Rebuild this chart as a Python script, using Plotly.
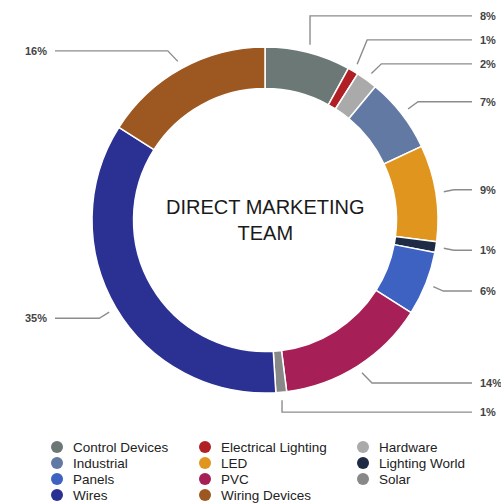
import math
import plotly.graph_objects as go

# slice data, in drawing order (clockwise from 12 o'clock)
labels = ["Control Devices", "Electrical Lighting", "Hardware", "Industrial", "LED",
          "Lighting World", "Panels", "PVC", "Solar", "Wires", "Wiring Devices"]
values = [8, 1, 2, 7, 9, 1, 6, 14, 1, 35, 16]
colors = ["#6c7875", "#b01f24", "#aaaaaa", "#6179a3", "#e0951f",
          "#1f2a44", "#3d62c2", "#a61f56", "#888888", "#2b3193", "#9d5721"]
center_title = "DIRECT MARKETING<br>TEAM"

W, H = 501, 504
CX, CY, R = 265, 220, 173          # donut centre / outer radius in px
FONT = "Liberation Sans, Arial, sans-serif"

fig = go.Figure()

# the donut itself
fig.add_trace(go.Pie(
    labels=labels, values=values, sort=False, direction="clockwise",
    hole=0.76, textinfo="none", showlegend=False,
    marker=dict(colors=colors, line=dict(color="white", width=1.5)),
    domain=dict(x=[(CX - R) / W, (CX + R) / W],
                y=[(H - CY - R) / H, (H - CY + R) / H]),
))

# leader lines + percentage labels, placed from the slice angles
total = sum(values)
cum = 0
items = []
for lab, v in zip(labels, values):
    mid = (cum + v / 2) / total * 2 * math.pi
    cum += v
    s, c = math.sin(mid), math.cos(mid)
    items.append(dict(v=v, s=s, side=1 if s >= 0 else -1,
                      ax=CX + (R + 8) * s, ay=CY - (R + 8) * c,
                      ideal=CY - (R + 20) * c))

GAP = 24
for side in (1, -1):
    grp = [d for d in items if d["side"] == side]
    upper = sorted([d for d in grp if d["ideal"] < CY], key=lambda d: -d["ideal"])
    lower = sorted([d for d in grp if d["ideal"] >= CY], key=lambda d: d["ideal"])
    prev = None
    for d in upper:
        d["y"] = d["ideal"] if prev is None else min(d["ideal"], prev - GAP)
        prev = d["y"]
    prev = None
    for d in lower:
        d["y"] = d["ideal"] if prev is None else max(d["ideal"], prev + GAP)
        prev = d["y"]

for d in items:
    side = d["side"]
    ex = d["ax"] + (side * 10 if abs(d["s"]) > 0.3 else 0)
    end_x = 472 if side > 0 else 55
    fig.add_trace(go.Scatter(
        x=[d["ax"], ex, end_x], y=[d["ay"], d["y"], d["y"]],
        mode="lines", line=dict(color="#8c8c8c", width=1.4),
        hoverinfo="skip", showlegend=False,
    ))
    fig.add_annotation(
        x=end_x + 6 * side, y=d["y"], text=f"<b>{d['v']}%</b>", showarrow=False,
        xanchor="left" if side > 0 else "right", yanchor="middle",
        font=dict(family=FONT, size=11, color="#444444"),
    )

# centre title
fig.add_annotation(x=CX, y=CY, text=center_title, showarrow=False,
                   font=dict(family=FONT, size=20, color="#1a1a1a"))

# legend: 3 columns, round markers
col_x = [57, 205, 363]
row_y0, row_h = 447, 16
for i, (lab, col) in enumerate(zip(labels, colors)):
    lx, ly = col_x[i % 3], row_y0 + row_h * (i // 3)
    fig.add_trace(go.Scatter(
        x=[lx], y=[ly], mode="markers", name=lab, showlegend=False,
        marker=dict(symbol="circle", size=12, color=col),
        hoverinfo="name",
    ))
    fig.add_annotation(x=lx + 14, y=ly, text=lab, showarrow=False,
                       xanchor="left", yanchor="middle",
                       font=dict(family=FONT, size=13.5, color="#222222"))

fig.update_xaxes(range=[0, W], visible=False, fixedrange=True)
fig.update_yaxes(range=[H, 0], visible=False, fixedrange=True)
fig.update_layout(
    width=W, height=H,
    margin=dict(l=0, r=0, t=0, b=0, autoexpand=False),
    paper_bgcolor="white", plot_bgcolor="white",
    font=dict(family=FONT, color="#222222"),
    showlegend=False,
)

# drop the browser's default 8px body margin so the figure sits at 0,0
fig.write_html("out.html", config={"displayModeBar": False},
               post_script="document.body.style.margin='0';")
